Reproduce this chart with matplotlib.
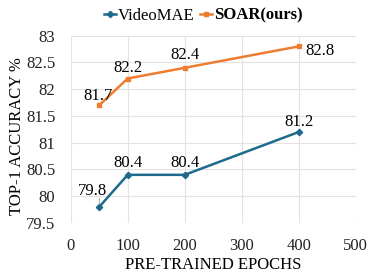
import matplotlib
matplotlib.use("Agg")
import matplotlib.pyplot as plt
from matplotlib.lines import Line2D

epochs = [50, 100, 200, 400]
videomae = [79.8, 80.4, 80.4, 81.2]
soar = [81.7, 82.2, 82.4, 82.8]
xticks = [0, 100, 200, 300, 400, 500]
yticks = [79.5, 80, 80.5, 81, 81.5, 82, 82.5, 83]

blue = "#1F6A8C"
orange = "#ED7D31"

plt.rcParams['font.family'] = ['Liberation Serif', 'DejaVu Serif']
fig = plt.figure(figsize=(3.74, 2.8), dpi=100)
ax = fig.add_axes([70.7/374, 1-223/280, (355.7-70.7)/374, (223-35.7)/280])

ax.plot(epochs, videomae, color=blue, lw=1.8, marker='D', ms=3.2, zorder=3)
ax.plot(epochs, soar, color=orange, lw=1.8, marker='s', ms=3.5, zorder=3)

ax.set_xlim(0, 500)
ax.set_ylim(79.5, 83)
ax.set_xticks(xticks)
ax.set_yticks(yticks)
ax.set_yticklabels([f"{v:g}" for v in yticks])
ax.grid(True, color="#E3E3E3", lw=0.8)
ax.set_axisbelow(True)
for s in ax.spines.values():
    s.set_visible(False)
fs = 12
ax.tick_params(axis='x', length=0, labelsize=fs, pad=11, colors="#222222")
ax.tick_params(axis='y', length=0, labelsize=fs, pad=11, colors="#222222")

ax.set_xlabel("PRE-TRAINED EPOCHS", fontsize=fs, labelpad=2)
ax.set_ylabel("TOP-1 ACCURACY %", fontsize=fs, labelpad=1, y=0.465)

def lab(x, y, dx, dy, ha='center', **kw):
    ax.annotate(f"{y:g}", (x, y), xytext=(dx, dy), textcoords='offset points',
                ha=ha, va='center', fontsize=fs, **kw)

# SOAR labels
lab(epochs[0], soar[0], -1, 6.5)
lab(epochs[1], soar[1], 0, 7.5)
lab(epochs[2], soar[2], 0, 9.2)
lab(epochs[3], soar[3], 5, -3.6, ha='left')
# VideoMAE labels
lab(epochs[0], videomae[0], -5, 11.5,
    arrowprops=dict(arrowstyle='-', color='#A8A8A8', lw=0.7, patchA=None,
                    relpos=(0.75, 0.05), shrinkA=0, shrinkB=2))
lab(epochs[1], videomae[1], 0, 8.5)
lab(epochs[2], videomae[2], 0, 8.5)
lab(epochs[3], videomae[3], 0, 7.2)

handles = [Line2D([], [], color=blue, lw=1.8, marker='D', ms=3.2),
           Line2D([], [], color=orange, lw=1.8, marker='s', ms=3.5)]
leg = fig.legend(handles, ["VideoMAE", "SOAR(ours)"], loc='center', bbox_to_anchor=(0.544, 0.944),
                 ncol=2, frameon=False, fontsize=fs, handlelength=0.7, handletextpad=0.12, columnspacing=0.35)
leg.get_texts()[1].set_fontweight('bold')

fig.savefig("out.png", dpi=100)
